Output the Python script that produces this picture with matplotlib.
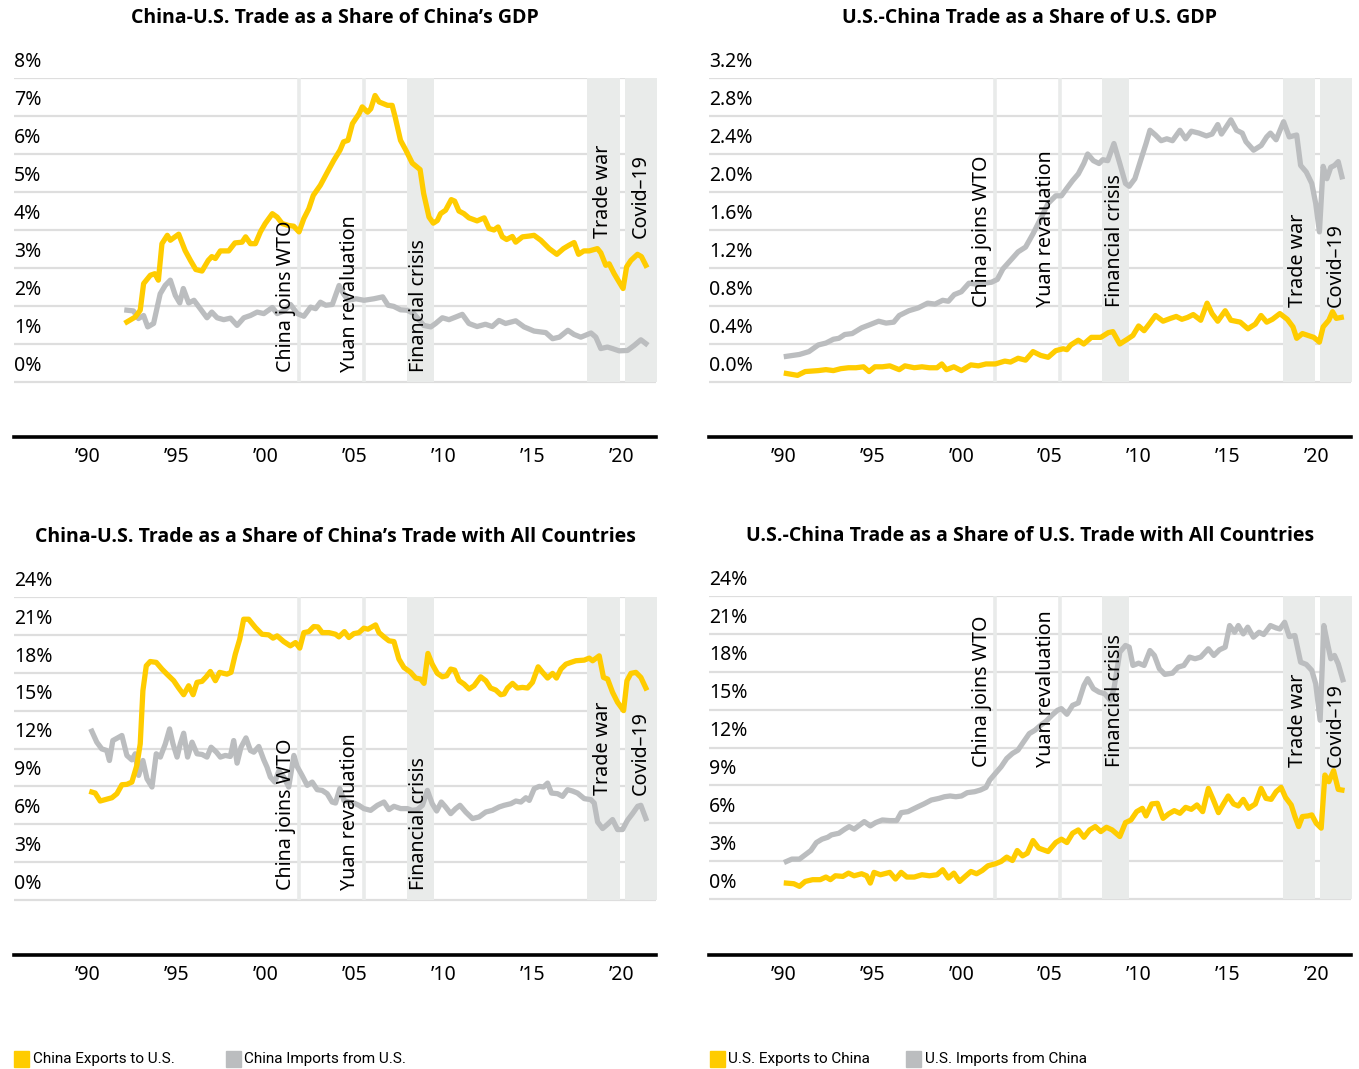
import matplotlib
matplotlib.use("Agg")
import matplotlib.pyplot as plt
from matplotlib.patches import Rectangle

plt.rcParams['font.family'] = ['Noto Sans', 'DejaVu Sans']

W, H = 1359, 1069
YELLOW = '#FFCC00'
GRAY = '#BBBDBF'
SHADE = '#E9EBEA'
GRID = '#DEDEDE'

# ---------------- data ----------------
# panel 1: China-U.S. trade as share of China's GDP (%)
p1_exp_yr = [1992.23, 1992.7, 1992.98, 1993.17, 1993.55, 1993.8, 1994.0, 1994.2, 1994.5, 1994.67,
             1995.14, 1995.5, 1995.8, 1996.1, 1996.45, 1996.8, 1997.0, 1997.2, 1997.48, 1997.95,
             1998.3, 1998.7, 1998.9, 1999.17, 1999.45, 1999.73, 2000.0, 2000.4, 2000.67, 2000.95,
             2001.3, 2001.6, 2001.9, 2002.17, 2002.45, 2002.7, 2003.1, 2003.5, 2003.85, 2004.2,
             2004.4, 2004.65, 2004.9, 2005.27, 2005.45, 2005.75, 2005.93, 2006.17, 2006.4, 2006.87,
             2007.13, 2007.3, 2007.6, 2007.9, 2008.26, 2008.7, 2008.9, 2009.2, 2009.44, 2009.67,
             2009.85, 2010.13, 2010.45, 2010.64, 2010.88, 2011.16, 2011.44, 2011.9, 2012.3, 2012.57,
             2012.85, 2013.08, 2013.32, 2013.56, 2013.88, 2014.07, 2014.45, 2014.82, 2015.1, 2015.48,
             2015.95, 2016.38, 2016.75, 2017.07, 2017.35, 2017.6, 2017.9, 2018.2, 2018.66, 2018.85,
             2019.13, 2019.32, 2019.6, 2019.88, 2020.1, 2020.3, 2020.54, 2020.91, 2021.13, 2021.38]
p1_exp = [1.58, 1.71, 1.89, 2.59, 2.81, 2.85, 2.68, 3.64, 3.86, 3.73,
          3.89, 3.46, 3.2, 2.96, 2.92, 3.2, 3.3, 3.25, 3.45, 3.45,
          3.66, 3.68, 3.82, 3.64, 3.64, 3.95, 4.17, 4.43, 4.34, 4.17,
          4.12, 4.1, 3.95, 4.3, 4.56, 4.91, 5.18, 5.53, 5.83, 6.1,
          6.32, 6.36, 6.8, 7.06, 7.24, 7.1, 7.19, 7.54, 7.37, 7.28,
          7.28, 6.97, 6.36, 6.1, 5.76, 5.59, 4.96, 4.34, 4.18, 4.25,
          4.43, 4.52, 4.8, 4.76, 4.5, 4.43, 4.32, 4.24, 4.32, 4.04,
          4.0, 4.08, 3.82, 3.75, 3.83, 3.68, 3.82, 3.84, 3.86, 3.73,
          3.51, 3.36, 3.51, 3.6, 3.67, 3.36, 3.45, 3.45, 3.51, 3.4,
          3.07, 3.11, 2.85, 2.63, 2.46, 3.03, 3.2, 3.36, 3.3, 3.07]
p1_imp_yr = [1992.23, 1992.6, 1992.88, 1993.17, 1993.4, 1993.73, 1994.1, 1994.38, 1994.67, 1994.95,
             1995.2, 1995.4, 1995.7, 1996.0, 1996.35, 1996.73, 1997.0, 1997.3, 1997.67, 1998.05,
             1998.42, 1998.8, 1999.17, 1999.55, 1999.92, 2000.4, 2000.67, 2001.05, 2001.42, 2001.8,
             2002.17, 2002.55, 2002.83, 2003.1, 2003.4, 2003.77, 2004.15, 2004.4, 2004.65, 2005.1,
             2005.55, 2006.1, 2006.6, 2006.9, 2007.22, 2007.6, 2007.97, 2008.35, 2008.9, 2009.3,
             2009.57, 2009.95, 2010.32, 2010.7, 2011.07, 2011.44, 2011.9, 2012.37, 2012.75, 2013.13,
             2013.5, 2014.07, 2014.54, 2015.1, 2015.76, 2016.14, 2016.52, 2017.0, 2017.35, 2017.73,
             2018.3, 2018.57, 2018.85, 2019.22, 2019.5, 2019.88, 2020.35, 2020.72, 2021.1, 2021.38]
p1_imp = [1.89, 1.87, 1.67, 1.75, 1.45, 1.54, 2.32, 2.54, 2.68, 2.28,
          2.08, 2.46, 2.08, 2.15, 1.93, 1.69, 1.84, 1.69, 1.64, 1.68,
          1.49, 1.69, 1.75, 1.84, 1.8, 1.96, 1.8, 1.87, 2.04, 1.8,
          1.73, 1.97, 1.93, 2.1, 2.02, 2.04, 2.54, 2.32, 2.15, 2.19,
          2.15, 2.19, 2.24, 2.02, 1.99, 1.9, 1.89, 1.8, 1.49, 1.45,
          1.54, 1.69, 1.64, 1.71, 1.78, 1.54, 1.46, 1.52, 1.46, 1.62,
          1.54, 1.61, 1.45, 1.34, 1.3, 1.14, 1.18, 1.36, 1.25, 1.18,
          1.29, 1.18, 0.88, 0.92, 0.88, 0.82, 0.83, 0.96, 1.11, 1.01]

# panel 2: U.S.-China trade as share of U.S. GDP (%)
p2_exp_yr = [1990.14, 1990.77, 1991.2, 1991.94, 1992.37, 1992.79, 1993.2, 1993.64, 1994.06, 1994.49,
             1994.8, 1995.13, 1995.55, 1995.97, 1996.5, 1996.82, 1997.35, 1997.78, 1998.2, 1998.63,
             1998.9, 1999.16, 1999.58, 2000.0, 2000.54, 2000.96, 2001.39, 2001.92, 2002.45, 2002.77,
             2003.2, 2003.62, 2004.04, 2004.47, 2004.89, 2005.32, 2005.74, 2005.95, 2006.17, 2006.59,
             2006.9, 2007.33, 2007.86, 2008.29, 2008.54, 2008.93, 2009.35, 2009.67, 2009.99, 2010.3,
             2010.63, 2010.94, 2011.37, 2011.79, 2012.11, 2012.43, 2012.75, 2013.07, 2013.49, 2013.85,
             2014.13, 2014.45, 2014.87, 2015.19, 2015.72, 2016.15, 2016.57, 2016.89, 2017.21, 2017.53,
             2017.95, 2018.37, 2018.69, 2018.9, 2019.22, 2019.54, 2019.86, 2020.18, 2020.39, 2020.71,
             2020.92, 2021.13, 2021.41]
p2_exp = [0.09, 0.07, 0.11, 0.12, 0.13, 0.12, 0.14, 0.15, 0.15, 0.16,
          0.11, 0.16, 0.16, 0.17, 0.13, 0.17, 0.15, 0.16, 0.15, 0.15,
          0.19, 0.13, 0.16, 0.12, 0.18, 0.17, 0.19, 0.19, 0.22, 0.21,
          0.25, 0.23, 0.32, 0.28, 0.26, 0.33, 0.35, 0.34, 0.39, 0.44,
          0.4, 0.47, 0.47, 0.52, 0.53, 0.4, 0.45, 0.49, 0.59, 0.54,
          0.62, 0.7, 0.64, 0.67, 0.69, 0.66, 0.68, 0.71, 0.65, 0.83,
          0.72, 0.64, 0.75, 0.65, 0.63, 0.56, 0.61, 0.7, 0.63, 0.66,
          0.72, 0.66, 0.58, 0.46, 0.51, 0.49, 0.47, 0.42, 0.58, 0.65,
          0.74, 0.67, 0.68]
p2_imp_yr = [1990.14, 1990.88, 1991.41, 1991.94, 1992.37, 1992.79, 1993.1, 1993.43, 1993.85, 1994.38,
             1994.8, 1995.34, 1995.76, 1996.19, 1996.5, 1997.04, 1997.57, 1998.1, 1998.52, 1998.95,
             1999.27, 1999.6, 2000.0, 2000.43, 2000.86, 2001.28, 2001.7, 2002.03, 2002.34, 2002.77,
             2003.2, 2003.62, 2004.04, 2004.47, 2004.89, 2005.32, 2005.64, 2005.95, 2006.27, 2006.59,
             2006.9, 2007.12, 2007.44, 2007.76, 2007.97, 2008.25, 2008.6, 2008.93, 2009.25, 2009.46,
             2009.78, 2010.1, 2010.41, 2010.63, 2010.94, 2011.26, 2011.58, 2011.9, 2012.32, 2012.64,
             2012.96, 2013.39, 2013.81, 2014.13, 2014.45, 2014.66, 2014.91, 2015.19, 2015.51, 2015.83,
             2016.04, 2016.47, 2016.9, 2017.21, 2017.42, 2017.74, 2018.16, 2018.48, 2018.9, 2019.12,
             2019.44, 2019.75, 2019.97, 2020.18, 2020.39, 2020.6, 2020.82, 2021.03, 2021.24, 2021.45]
p2_imp = [0.27, 0.29, 0.32, 0.39, 0.41, 0.45, 0.46, 0.5, 0.51, 0.57,
          0.6, 0.64, 0.62, 0.63, 0.7, 0.75, 0.78, 0.83, 0.82, 0.86,
          0.85, 0.92, 0.95, 1.04, 1.03, 1.04, 1.05, 1.08, 1.19, 1.28,
          1.37, 1.42, 1.56, 1.72, 1.88, 1.96, 1.96, 2.04, 2.12, 2.19,
          2.3, 2.4, 2.33, 2.3, 2.34, 2.33, 2.51, 2.3, 2.09, 2.06,
          2.14, 2.33, 2.51, 2.65, 2.6, 2.54, 2.56, 2.54, 2.65, 2.56,
          2.64, 2.62, 2.59, 2.61, 2.71, 2.61, 2.68, 2.76, 2.65, 2.62,
          2.53, 2.44, 2.49, 2.58, 2.62, 2.55, 2.74, 2.58, 2.6, 2.28,
          2.21, 2.09, 1.88, 1.58, 2.27, 2.14, 2.26, 2.28, 2.32, 2.16]

# panel 3: China-U.S. trade as share of China's trade with all countries (%)
p3_exp_yr = [1990.26, 1990.45, 1990.73, 1991.01, 1991.39, 1991.67, 1991.95, 1992.23, 1992.51, 1992.79,
             1992.98, 1993.13, 1993.32, 1993.54, 1993.88, 1994.2, 1994.48, 1994.86, 1995.14, 1995.42,
             1995.7, 1995.95, 1996.17, 1996.45, 1996.69, 1996.92, 1997.2, 1997.44, 1997.85, 1998.08,
             1998.32, 1998.57, 1998.79, 1999.07, 1999.45, 1999.82, 2000.2, 2000.44, 2000.67, 2001.04,
             2001.41, 2001.7, 2001.94, 2002.17, 2002.45, 2002.73, 2002.96, 2003.2, 2003.58, 2003.95,
             2004.14, 2004.45, 2004.7, 2004.98, 2005.26, 2005.54, 2005.77, 2006.2, 2006.39, 2006.67,
             2006.95, 2007.23, 2007.51, 2007.79, 2008.17, 2008.45, 2008.73, 2008.92, 2009.14, 2009.38,
             2009.67, 2009.95, 2010.19, 2010.42, 2010.64, 2010.89, 2011.17, 2011.45, 2011.73, 2012.1,
             2012.39, 2012.66, 2012.95, 2013.23, 2013.42, 2013.61, 2013.89, 2014.17, 2014.45, 2014.73,
             2015.01, 2015.33, 2015.58, 2015.86, 2016.14, 2016.36, 2016.61, 2016.89, 2017.17, 2017.45,
             2017.92, 2018.2, 2018.39, 2018.76, 2019.0, 2019.23, 2019.51, 2019.79, 2020.13, 2020.32,
             2020.54, 2020.82, 2021.1, 2021.38]
p3_exp = [8.55, 8.47, 7.84, 7.95, 8.1, 8.42, 9.13, 9.16, 9.34, 10.66,
          12.37, 16.58, 18.55, 18.89, 18.82, 18.29, 17.89, 17.37, 16.79, 16.26,
          16.97, 16.26, 17.24, 17.32, 17.68, 18.1, 17.37, 18.03, 17.89, 18.03,
          19.47, 20.66, 22.24, 22.24, 21.58, 21.05, 21.0, 20.74, 20.92, 20.47,
          20.13, 20.39, 19.95, 21.18, 21.26, 21.66, 21.63, 21.18, 21.18, 21.05,
          20.84, 21.26, 20.79, 21.1, 21.18, 21.53, 21.45, 21.79, 21.18, 20.84,
          20.53, 20.47, 19.08, 18.42, 18.03, 17.58, 17.5, 17.16, 19.53, 18.68,
          17.95, 17.68, 17.76, 18.29, 18.21, 17.37, 17.1, 16.71, 16.97, 17.68,
          17.37, 16.79, 16.63, 16.26, 16.32, 16.79, 17.16, 16.79, 16.84, 16.79,
          17.24, 18.47, 18.03, 17.58, 17.95, 17.58, 18.29, 18.68, 18.82, 18.95,
          19.0, 19.16, 18.95, 19.34, 17.63, 17.5, 16.45, 15.66, 15.0, 17.37,
          17.95, 18.03, 17.63, 16.79]
p3_imp_yr = [1990.26, 1990.54, 1990.82, 1991.1, 1991.25, 1991.44, 1991.71, 1991.95, 1992.23, 1992.51,
             1992.7, 1992.89, 1993.13, 1993.36, 1993.64, 1993.88, 1994.11, 1994.39, 1994.63, 1994.82,
             1995.05, 1995.23, 1995.42, 1995.64, 1995.89, 1996.17, 1996.45, 1996.73, 1996.96, 1997.26,
             1997.48, 1997.76, 1998.04, 1998.23, 1998.42, 1998.64, 1998.92, 1999.17, 1999.36, 1999.64,
             1999.92, 2000.1, 2000.29, 2000.54, 2000.76, 2001.04, 2001.32, 2001.61, 2001.79, 2002.07,
             2002.36, 2002.64, 2002.92, 2003.2, 2003.48, 2003.76, 2003.95, 2004.19, 2004.42, 2004.7,
             2004.98, 2005.26, 2005.54, 2005.92, 2006.3, 2006.67, 2006.95, 2007.23, 2007.61, 2007.98,
             2008.26, 2008.54, 2008.83, 2009.11, 2009.38, 2009.63, 2009.89, 2010.13, 2010.42, 2010.7,
             2010.94, 2011.26, 2011.64, 2012.01, 2012.39, 2012.76, 2013.14, 2013.42, 2013.8, 2014.08,
             2014.36, 2014.64, 2014.83, 2015.11, 2015.39, 2015.63, 2015.86, 2016.08, 2016.42, 2016.7,
             2016.98, 2017.26, 2017.54, 2017.92, 2018.29, 2018.48, 2018.67, 2018.95, 2019.23, 2019.51,
             2019.79, 2020.07, 2020.35, 2020.63, 2020.92, 2021.1, 2021.38]
p3_imp = [13.37, 12.5, 11.97, 11.84, 11.05, 12.63, 12.84, 13.03, 11.45, 11.1,
          11.58, 9.87, 11.05, 9.6, 8.95, 11.58, 11.32, 12.37, 13.55, 12.37,
          11.32, 12.37, 13.21, 11.32, 12.5, 11.58, 11.53, 11.32, 12.1, 11.71,
          11.32, 11.45, 11.37, 12.63, 10.84, 12.1, 12.84, 11.84, 11.71, 12.16,
          11.1, 10.53, 9.74, 9.34, 10.21, 9.74, 8.95, 11.45, 10.58, 9.87,
          9.08, 9.34, 8.74, 8.68, 8.42, 7.76, 7.68, 8.82, 7.89, 7.76,
          7.68, 7.5, 7.24, 7.1, 7.5, 7.76, 7.16, 7.42, 7.24, 7.24,
          7.1, 7.16, 7.5, 8.68, 7.63, 7.05, 7.76, 7.37, 6.84, 7.24,
          7.5, 6.97, 6.45, 6.58, 6.97, 7.1, 7.37, 7.5, 7.63, 7.84,
          7.76, 8.1, 7.89, 8.82, 9.0, 8.95, 9.26, 8.47, 8.42, 8.21,
          8.74, 8.63, 8.47, 8.03, 7.95, 7.68, 6.18, 5.66, 6.0, 6.37,
          5.58, 5.58, 6.32, 6.84, 7.42, 7.5, 6.45]

# panel 4: U.S.-China trade as share of U.S. trade with all countries (%)
p4_exp_yr = [1990.14, 1990.56, 1990.88, 1991.2, 1991.62, 1992.05, 1992.37, 1992.62, 1992.9, 1993.32,
             1993.64, 1993.96, 1994.38, 1994.66, 1994.87, 1995.08, 1995.44, 1995.97, 1996.29, 1996.61,
             1996.93, 1997.35, 1997.78, 1998.2, 1998.63, 1998.95, 1999.27, 1999.58, 1999.9, 2000.22,
             2000.54, 2000.86, 2001.18, 2001.5, 2001.92, 2002.24, 2002.56, 2002.88, 2003.15, 2003.45,
             2003.72, 2004.04, 2004.36, 2004.89, 2005.32, 2005.64, 2005.95, 2006.27, 2006.59, 2006.91,
             2007.23, 2007.55, 2007.86, 2008.18, 2008.5, 2008.93, 2009.25, 2009.56, 2009.88, 2010.2,
             2010.41, 2010.73, 2011.05, 2011.37, 2011.68, 2012.0, 2012.32, 2012.64, 2012.96, 2013.28,
             2013.6, 2013.92, 2014.19, 2014.49, 2014.77, 2015.04, 2015.34, 2015.61, 2015.89, 2016.19,
             2016.57, 2016.89, 2017.17, 2017.46, 2017.74, 2018.02, 2018.27, 2018.59, 2018.8, 2019.01,
             2019.22, 2019.54, 2019.75, 2020.0, 2020.28, 2020.49, 2020.71, 2020.98, 2021.24, 2021.45]
p4_exp = [1.26, 1.21, 1.0, 1.39, 1.53, 1.53, 1.74, 1.53, 1.84, 1.79,
          2.05, 1.84, 2.0, 1.84, 1.26, 2.11, 1.92, 2.11, 1.58, 2.11,
          1.74, 1.74, 1.92, 1.84, 1.92, 2.32, 1.66, 2.05, 1.39, 1.79,
          2.18, 2.0, 2.26, 2.63, 2.79, 2.97, 3.32, 3.05, 3.84, 3.42,
          3.63, 4.63, 4.03, 3.76, 4.47, 4.74, 4.47, 5.21, 5.47, 4.89,
          5.47, 5.74, 5.34, 5.68, 5.47, 4.95, 6.05, 6.26, 6.92, 7.18,
          6.58, 7.53, 7.58, 6.39, 6.74, 7.0, 6.79, 7.26, 7.1, 7.45,
          6.92, 8.76, 7.89, 6.84, 7.53, 8.16, 7.53, 7.37, 7.89, 7.18,
          7.53, 8.76, 7.97, 7.89, 8.5, 8.84, 8.05, 7.45, 6.53, 5.74,
          6.53, 6.58, 6.66, 6.0, 5.61, 9.82, 9.29, 10.16, 8.68, 8.63]
p4_imp_yr = [1990.14, 1990.45, 1990.88, 1991.2, 1991.52, 1991.83, 1992.15, 1992.47, 1992.68, 1993.1,
             1993.43, 1993.68, 1993.96, 1994.28, 1994.53, 1994.87, 1995.17, 1995.55, 1995.97, 1996.36,
             1996.61, 1996.99, 1997.25, 1997.57, 1997.89, 1998.31, 1998.74, 1999.05, 1999.37, 1999.69,
             2000.01, 2000.33, 2000.75, 2001.07, 2001.39, 2001.6, 2001.92, 2002.24, 2002.56, 2002.88,
             2003.19, 2003.51, 2003.83, 2004.15, 2004.47, 2004.79, 2005.1, 2005.42, 2005.64, 2005.95,
             2006.27, 2006.59, 2006.91, 2007.12, 2007.44, 2007.76, 2008.08, 2008.4, 2008.61, 2008.93,
             2009.25, 2009.46, 2009.67, 2009.99, 2010.3, 2010.63, 2010.88, 2011.16, 2011.47, 2011.9,
             2012.22, 2012.54, 2012.86, 2013.17, 2013.49, 2013.92, 2014.23, 2014.55, 2014.87, 2015.12,
             2015.4, 2015.61, 2015.89, 2016.14, 2016.46, 2016.78, 2017.04, 2017.42, 2017.74, 2017.95,
             2018.22, 2018.48, 2018.8, 2019.12, 2019.44, 2019.75, 2019.97, 2020.22, 2020.43, 2020.64,
             2020.82, 2021.03, 2021.24, 2021.5]
p4_imp = [2.97, 3.16, 3.16, 3.5, 3.84, 4.47, 4.74, 4.89, 5.08, 5.21,
          5.53, 5.74, 5.53, 5.87, 6.13, 5.79, 6.05, 6.26, 6.21, 6.21,
          6.84, 6.92, 7.1, 7.32, 7.53, 7.84, 7.97, 8.1, 8.16, 8.1,
          8.16, 8.42, 8.5, 8.63, 8.84, 9.42, 9.95, 10.47, 11.13, 11.53,
          11.79, 12.45, 13.1, 13.37, 13.76, 14.1, 14.55, 14.95, 15.08, 14.63,
          15.34, 15.53, 16.92, 17.45, 16.66, 16.39, 16.26, 15.74, 16.74, 19.55,
          20.08, 19.95, 18.5, 18.68, 18.5, 19.68, 19.29, 18.24, 17.79, 17.89,
          18.37, 18.5, 19.16, 19.03, 19.16, 19.82, 19.29, 19.74, 19.95, 21.66,
          21.13, 21.66, 21.0, 21.53, 20.74, 21.13, 20.95, 21.66, 21.47, 21.39,
          21.92, 20.79, 20.87, 18.76, 18.58, 18.11, 17.05, 14.16, 21.66, 20.21,
          19.03, 19.29, 18.63, 17.37]

titles = ["China-U.S. Trade as a Share of China\u2019s GDP",
          "U.S.-China Trade as a Share of U.S. GDP",
          "China-U.S. Trade as a Share of China\u2019s Trade with All Countries",
          "U.S.-China Trade as a Share of U.S. Trade with All Countries"]
p1_ticks = [0, 1, 2, 3, 4, 5, 6, 7, 8]
p2_ticks = [0.0, 0.4, 0.8, 1.2, 1.6, 2.0, 2.4, 2.8, 3.2]
p34_ticks = [0, 3, 6, 9, 12, 15, 18, 21, 24]
x_years = [1990, 1995, 2000, 2005, 2010, 2015, 2020]
x_labels = ["\u201990", "\u201995", "\u201900", "\u201905", "\u201910", "\u201915", "\u201920"]

events = {"China joins WTO": 2001.92, "Yuan revaluation": 2005.55}
bands = {"Financial crisis": (2007.94, 2009.46), "Trade war": (2018.1, 2019.95),
         "Covid-19": (2020.2, 2022.5)}
legend_left = ["China Exports to U.S.", "China Imports from U.S."]
legend_right = ["U.S. Exports to China", "U.S. Imports from China"]


def make_panel(left_px, top_px, bottom_px, zero_px, x_left, x_right, ticks, fmt,
               exp_yr, exp, imp_yr, imp, low_lab, high_lab, title, title_y):
    top_val = ticks[-1]
    px_per_unit = (zero_px - top_px) / top_val
    ax = fig.add_axes([left_px / W, (H - bottom_px) / H, 642 / W, (bottom_px - top_px) / H])
    ax.set_xlim(x_left, x_right)
    ax.set_ylim(-(bottom_px - zero_px) / px_per_unit, top_val)
    for s in ['top', 'left', 'right']:
        ax.spines[s].set_visible(False)
    ax.spines['bottom'].set_linewidth(2.6)
    ax.spines['bottom'].set_color('black')
    ax.set_yticks([])
    ax.set_xticks(x_years)
    ax.set_xticklabels(x_labels, fontsize=14)
    ax.tick_params(axis='x', length=0, pad=7.5)

    for t in ticks:
        ax.axhline(t, color=GRID, lw=1.6, zorder=1)
        ax.annotate(fmt.format(t), xy=(0, t), xycoords=('axes fraction', 'data'),
                    xytext=(0, 4.5), textcoords='offset points', ha='left', va='bottom',
                    fontsize=14)

    for name, (a, b) in bands.items():
        ax.fill_between([a, b], 0, top_val, color=SHADE, lw=0, zorder=1.5)
    for name, x in events.items():
        ax.vlines(x, 0, top_val, color=SHADE, lw=2.6, zorder=1.6)

    ax.plot(imp_yr, imp, color=GRAY, lw=3.8, solid_joinstyle='round', zorder=3)
    ax.plot(exp_yr, exp, color=YELLOW, lw=3.8, solid_joinstyle='round', zorder=3)

    # event labels, right edge just left of the anchor year
    lab_x = {"China joins WTO": 2001.75, "Yuan revaluation": 2005.33,
             "Financial crisis": 2009.2, "Trade war": 2019.55, "Covid-19": 2021.65}
    for name, x in lab_x.items():
        yv = high_lab if name in ("Trade war", "Covid-19") else low_lab
        ax.text(x, yv, name.replace('-', '\u2013'), rotation=90, rotation_mode='anchor',
                ha='left', va='bottom', fontsize=14.2, zorder=5)

    fig.text((left_px + 321) / W, 1 - title_y / H, title, ha='center', va='center',
             fontsize=14, fontweight='bold', family=['Open Sans', 'DejaVu Sans'])
    return ax


fig = plt.figure(figsize=(W / 100, H / 100), dpi=100)

make_panel(14, 78, 437, 382, 1985.89, 2021.95, p1_ticks, "{:.0f}%",
           p1_exp_yr, p1_exp, p1_imp_yr, p1_imp, 0.26, 3.79, titles[0], 18)
make_panel(709, 78, 437, 382, 1985.78, 2021.96, p2_ticks, "{:.1f}%",
           p2_exp_yr, p2_exp, p2_imp_yr, p2_imp, 0.79, 0.79, titles[1], 18)
make_panel(14, 597, 955, 900, 1985.89, 2021.95, p34_ticks, "{:.0f}%",
           p3_exp_yr, p3_exp, p3_imp_yr, p3_imp, 0.8, 8.3, titles[2], 537)
make_panel(709, 596, 955, 899, 1985.78, 2021.96, p34_ticks, "{:.0f}%",
           p4_exp_yr, p4_exp, p4_imp_yr, p4_imp, 10.45, 10.45, titles[3], 536)

# legends
for (x_sq, x_txt, label, col) in [(14, 33, legend_left[0], YELLOW), (226, 244, legend_left[1], GRAY),
                                  (710, 728, legend_right[0], YELLOW), (906, 925, legend_right[1], GRAY)]:
    fig.add_artist(Rectangle((x_sq / W, 1 - 1067 / H), 15 / W, 16 / H, color=col,
                             transform=fig.transFigure))
    fig.text(x_txt / W, 1 - 1059 / H, label, ha='left', va='center', fontsize=11,
             family=['Roboto', 'DejaVu Sans'])

fig.savefig("out.png", dpi=100)
